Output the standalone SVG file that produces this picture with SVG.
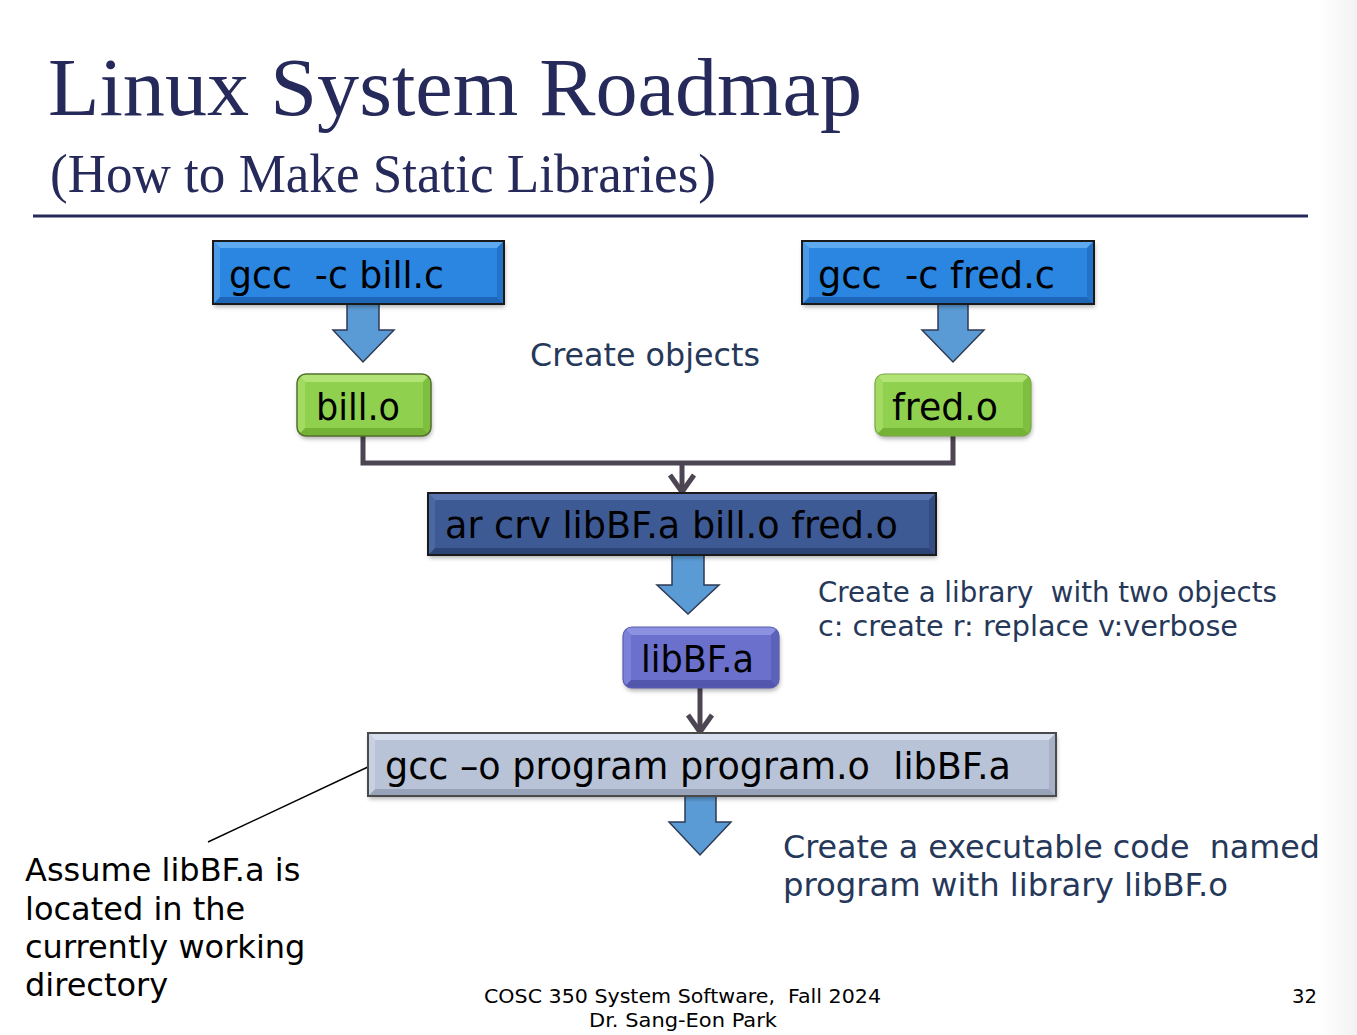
<svg xmlns="http://www.w3.org/2000/svg" width="1357" height="1035" viewBox="0 0 1357 1035">
<defs>
<style>
.title{font-family:"Liberation Serif","Times New Roman",serif;fill:#262a5a}
.node{font-family:"DejaVu Sans",Verdana,sans-serif;font-size:38px;fill:#000}
.note{font-family:"DejaVu Sans",Verdana,sans-serif;fill:#263859}
.side{font-family:"DejaVu Sans",Verdana,sans-serif;font-size:32px;fill:#000}
.foot{font-family:"DejaVu Sans",Verdana,sans-serif;font-size:20px;fill:#000}
.barrow{fill:#5b9bd5;stroke:#2f3a55;stroke-width:1.5}
.conn{fill:none;stroke:#4d4552;stroke-width:5}
.outline{fill:none;stroke:#1a1a1a;stroke-width:2}
</style>
<linearGradient id="edge" x1="0" y1="0" x2="1" y2="0">
<stop offset="0" stop-color="#ffffff"/>
<stop offset="1" stop-color="#f2f2f4"/>
</linearGradient>
<marker id="chev" viewBox="0 0 24 30" refX="21" refY="15" markerWidth="24" markerHeight="30" markerUnits="userSpaceOnUse" orient="auto">
<path d="M3,3 L20,15 L3,27" fill="none" stroke="#4d4552" stroke-width="5"/>
</marker>
<filter id="sh" x="-10%" y="-10%" width="120%" height="130%">
<feDropShadow dx="1" dy="3" stdDeviation="2" flood-color="#000" flood-opacity="0.3"/>
</filter>
<clipPath id="cBill"><rect x="297" y="374" width="134" height="62" rx="9"/></clipPath>
<clipPath id="cFred"><rect x="875" y="374" width="156" height="62" rx="9"/></clipPath>
<clipPath id="cLib"><rect x="623" y="627" width="156" height="61" rx="9"/></clipPath>
</defs>

<rect x="0" y="0" width="1357" height="1035" fill="#ffffff"/>
<rect x="1318" y="0" width="39" height="1035" fill="url(#edge)"/>

<g id="title">
<text class="title" x="48" y="115" font-size="82" textLength="814" lengthAdjust="spacingAndGlyphs">Linux System Roadmap</text>
<text class="title" x="50" y="192" font-size="55" textLength="666" lengthAdjust="spacingAndGlyphs">(How to Make Static Libraries)</text>
<rect x="33" y="214.5" width="1275" height="3" fill="#262a5a"/>
</g>

<g id="connectors">
<path class="conn" d="M363,436 V463 H953 V436"/>
<line class="conn" x1="682" y1="463" x2="682" y2="493" marker-end="url(#chev)"/>
<line class="conn" x1="700" y1="688" x2="700" y2="733" marker-end="url(#chev)"/>
<path class="barrow" d="M347,303 H379 V330 H394 L363,362 L333,330 H347 Z"/>
<path class="barrow" d="M938,303 H968 V330 H984 L953,362 L922,330 H938 Z"/>
<path class="barrow" d="M672,555 H704 V585 H719 L688,614 L657,585 H672 Z"/>
<path class="barrow" d="M685,796 H716 V822 H731 L700,855 L669,822 H685 Z"/>
<line x1="208" y1="842" x2="370" y2="766" stroke="#000" stroke-width="1.4"/>
</g>

<g id="gcc-bill">
<rect x="213" y="241" width="291" height="63" fill="#2b86e0" filter="url(#sh)"/>
<polygon points="213,241 504,241 497,248 220,248" fill="#5fa9f0"/>
<polygon points="213,304 504,304 497,297 220,297" fill="#1d66b8"/>
<polygon points="213,241 220,248 220,297 213,304" fill="#4a9ae8"/>
<polygon points="504,241 497,248 497,297 504,304" fill="#2272c8"/>
<rect class="outline" x="213" y="241" width="291" height="63"/>
<text class="node" x="229" y="288" xml:space="preserve" textLength="215" lengthAdjust="spacingAndGlyphs">gcc  -c bill.c</text>
</g>

<g id="gcc-fred">
<rect x="802" y="241" width="292" height="63" fill="#2b86e0" filter="url(#sh)"/>
<polygon points="802,241 1094,241 1087,248 809,248" fill="#5fa9f0"/>
<polygon points="802,304 1094,304 1087,297 809,297" fill="#1d66b8"/>
<polygon points="802,241 809,248 809,297 802,304" fill="#4a9ae8"/>
<polygon points="1094,241 1087,248 1087,297 1094,304" fill="#2272c8"/>
<rect class="outline" x="802" y="241" width="292" height="63"/>
<text class="node" x="818" y="288" xml:space="preserve" textLength="237" lengthAdjust="spacingAndGlyphs">gcc  -c fred.c</text>
</g>

<g id="bill-o">
<rect x="297" y="374" width="134" height="62" rx="9" fill="#8fd14f" filter="url(#sh)"/>
<g clip-path="url(#cBill)">
<polygon points="297,374 431,374 423,382 305,382" fill="#b2e377"/>
<polygon points="297,436 431,436 423,428 305,428" fill="#74b236"/>
<polygon points="297,374 305,382 305,428 297,436" fill="#a2da62"/>
<polygon points="431,374 423,382 423,428 431,436" fill="#7fbf40"/>
</g>
<rect x="297" y="374" width="134" height="62" rx="9" fill="none" stroke="#55702c" stroke-width="1.5"/>
<text class="node" x="316" y="420" textLength="84" lengthAdjust="spacingAndGlyphs">bill.o</text>
</g>

<g id="fred-o">
<rect x="875" y="374" width="156" height="62" rx="9" fill="#8fd14f" filter="url(#sh)"/>
<g clip-path="url(#cFred)">
<polygon points="875,374 1031,374 1023,382 883,382" fill="#b2e377"/>
<polygon points="875,436 1031,436 1023,428 883,428" fill="#74b236"/>
<polygon points="875,374 883,382 883,428 875,436" fill="#a2da62"/>
<polygon points="1031,374 1023,382 1023,428 1031,436" fill="#7fbf40"/>
</g>
<rect x="875" y="374" width="156" height="62" rx="9" fill="none" stroke="#7aa845" stroke-width="1.2"/>
<text class="node" x="892" y="420" textLength="106" lengthAdjust="spacingAndGlyphs">fred.o</text>
</g>

<g id="ar">
<rect x="428" y="493" width="508" height="62" fill="#3e5a94" filter="url(#sh)"/>
<polygon points="428,493 936,493 929,500 435,500" fill="#5a76b0"/>
<polygon points="428,555 936,555 929,548 435,548" fill="#2c4476"/>
<polygon points="428,493 435,500 435,548 428,555" fill="#4c68a3"/>
<polygon points="936,493 929,500 929,548 936,555" fill="#334d84"/>
<rect class="outline" x="428" y="493" width="508" height="62"/>
<text class="node" x="445" y="538" textLength="453" lengthAdjust="spacingAndGlyphs">ar crv libBF.a bill.o fred.o</text>
</g>

<g id="libBF">
<rect x="623" y="627" width="156" height="61" rx="9" fill="#6a6fcb" filter="url(#sh)"/>
<g clip-path="url(#cLib)">
<polygon points="623,627 779,627 771,635 631,635" fill="#8c91e2"/>
<polygon points="623,688 779,688 771,680 631,680" fill="#5257ad"/>
<polygon points="623,627 631,635 631,680 623,688" fill="#7b80d8"/>
<polygon points="779,627 771,635 771,680 779,688" fill="#5c61ba"/>
</g>
<rect x="623" y="627" width="156" height="61" rx="9" fill="none" stroke="#5a5fb0" stroke-width="1.2"/>
<text class="node" x="641" y="672" textLength="113" lengthAdjust="spacingAndGlyphs">libBF.a</text>
</g>

<g id="gcc-link">
<rect x="368" y="733" width="688" height="63" fill="#b9c3d7" filter="url(#sh)"/>
<polygon points="368,733 1056,733 1049,740 375,740" fill="#d6dded"/>
<polygon points="368,796 1056,796 1049,789 375,789" fill="#98a3ba"/>
<polygon points="368,733 375,740 375,789 368,796" fill="#c8d0e2"/>
<polygon points="1056,733 1049,740 1049,789 1056,796" fill="#a6b0c6"/>
<rect x="368" y="733" width="688" height="63" fill="none" stroke="#4a4a4a" stroke-width="2"/>
<text class="node" x="385" y="779" xml:space="preserve" textLength="626" lengthAdjust="spacingAndGlyphs">gcc –o program program.o  libBF.a</text>
</g>

<g id="notes">
<text class="note" x="530" y="366" font-size="32" textLength="230" lengthAdjust="spacingAndGlyphs">Create objects</text>
<text class="note" x="818" y="602" font-size="28" xml:space="preserve" textLength="459" lengthAdjust="spacingAndGlyphs">Create a library  with two objects</text>
<text class="note" x="818" y="636" font-size="28" textLength="420" lengthAdjust="spacingAndGlyphs">c: create r: replace v:verbose</text>
<text class="note" x="783" y="858" font-size="32" xml:space="preserve" textLength="537" lengthAdjust="spacingAndGlyphs">Create a executable code  named</text>
<text class="note" x="783" y="896" font-size="32" textLength="445" lengthAdjust="spacingAndGlyphs">program with library libBF.o</text>
</g>

<g id="assume">
<text class="side" x="25" y="881">Assume libBF.a is</text>
<text class="side" x="25" y="920">located in the</text>
<text class="side" x="25" y="958">currently working</text>
<text class="side" x="25" y="996">directory</text>
</g>

<g id="footer">
<text class="foot" x="484" y="1003" xml:space="preserve" textLength="397" lengthAdjust="spacingAndGlyphs">COSC 350 System Software,  Fall 2024</text>
<text class="foot" x="589" y="1027" textLength="188" lengthAdjust="spacingAndGlyphs">Dr. Sang-Eon Park</text>
<text class="foot" x="1292" y="1003" textLength="25" lengthAdjust="spacingAndGlyphs">32</text>
</g>
</svg>
